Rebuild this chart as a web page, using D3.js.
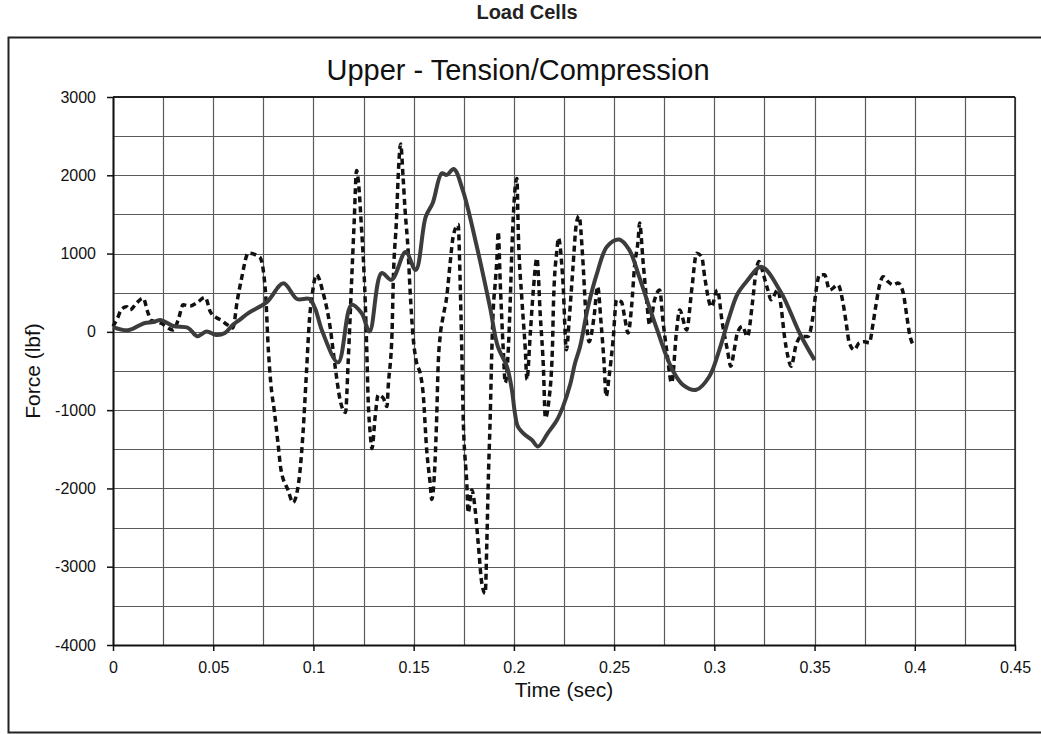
<!DOCTYPE html>
<html><head><meta charset="utf-8">
<script src="https://cdn.jsdelivr.net/npm/d3@7"></script>
<style>
html,body{margin:0;padding:0;background:#fff;}
svg{display:block;font-family:"Liberation Sans",Arial,sans-serif;}
</style></head>
<body>
<svg id="chart" width="1041" height="734"></svg>
<script>
const xTicks = [0,0.05,0.1,0.15,0.2,0.25,0.3,0.35,0.4,0.45];
const yTicks = [-4000,-3000,-2000,-1000,0,1000,2000,3000];

// Solid series: [time (sec), force (lbf)]
const solidSeries = [
[0,60],[0.0075,20],[0.0155,110],[0.02,125],[0.024,150],[0.03,75],[0.0375,50],[0.042,-55],
[0.0467,5],[0.0515,-40],[0.0558,-15],[0.0598,90],[0.063,150],[0.0675,240],[0.0767,380],
[0.085,620],[0.0918,420],[0.098,420],[0.1008,300],[0.1045,0],[0.1123,-390],[0.119,345],
[0.124,240],[0.128,5],[0.134,750],[0.139,665],[0.146,1020],[0.151,790],[0.156,1470],
[0.1595,1645],[0.164,2025],[0.1665,2005],[0.170,2080],[0.1745,1810],[0.1815,1090],
[0.188,325],[0.192,-190],[0.1965,-440],[0.199,-740],[0.2005,-1035],[0.202,-1210],
[0.2055,-1315],[0.209,-1380],[0.212,-1465],[0.217,-1290],[0.2215,-1125],[0.2245,-955],
[0.228,-680],[0.2305,-400],[0.233,-190],[0.237,320],[0.2415,750],[0.2465,1090],
[0.2525,1180],[0.2575,1050],[0.2625,705],[0.2675,320],[0.2715,25],[0.2755,-270],
[0.2795,-505],[0.2845,-680],[0.291,-740],[0.2975,-570],[0.3025,-230],[0.3075,195],
[0.3115,480],[0.316,640],[0.3235,830],[0.333,515],[0.343,-40],[0.350,-360]
];

// Dashed series: [time (sec), force (lbf)]
const dashedSeries = [
[0,70],[0.0025,190],[0.004,280],[0.0068,320],[0.0085,280],[0.0118,370],[0.015,430],
[0.0175,240],[0.019,150],[0.024,110],[0.03,25],[0.0325,150],[0.035,345],[0.0385,330],
[0.0417,370],[0.046,440],[0.0485,260],[0.0517,180],[0.054,150],[0.057,90],[0.0598,50],
[0.062,400],[0.064,665],[0.0675,1005],[0.0733,950],[0.076,535],[0.0775,-230],[0.0787,-650],
[0.0806,-1035],[0.0823,-1420],[0.0838,-1760],[0.0873,-2020],[0.0898,-2180],[0.0913,-2105],
[0.0932,-1800],[0.0948,-1290],[0.0965,-525],[0.098,150],[0.0995,500],[0.1015,730],
[0.1048,500],[0.1083,65],[0.1108,-440],[0.1133,-870],[0.116,-1030],[0.1173,-400],
[0.119,625],[0.1203,1390],[0.1215,2060],[0.1225,1900],[0.1238,1400],[0.1258,410],
[0.1266,-230],[0.1273,-870],[0.1283,-1290],[0.1292,-1490],[0.1308,-1080],[0.1323,-805],
[0.1348,-845],[0.1367,-955],[0.1373,-700],[0.1392,-15],[0.1398,625],[0.1415,1475],
[0.1422,1940],[0.1435,2400],[0.1447,1985],[0.1457,1560],[0.1472,1050],[0.1482,535],
[0.1497,-60],[0.1515,-400],[0.1532,-525],[0.1547,-780],[0.1565,-1510],[0.1582,-1930],
[0.159,-2140],[0.1607,-1635],[0.1615,-1080],[0.1622,-440],[0.1632,-60],[0.1647,195],
[0.1665,450],[0.1682,880],[0.1697,1215],[0.1722,1370],[0.1732,625],[0.174,-230],
[0.1747,-1080],[0.1765,-1930],[0.1772,-2310],[0.179,-2020],[0.1807,-2275],[0.1822,-2700],
[0.184,-3210],[0.1857,-3340],[0.1865,-2700],[0.1872,-1930],[0.1882,-1080],[0.189,-230],
[0.1897,280],[0.1907,625],[0.1915,920],[0.1922,1280],[0.1932,625],[0.1947,-230],
[0.1957,-650],[0.1972,-230],[0.1982,410],[0.199,1050],[0.1997,1475],[0.2015,1960],
[0.2022,1265],[0.204,410],[0.2057,-230],[0.2065,-610],[0.2082,-15],[0.2097,535],
[0.2115,940],[0.2132,195],[0.2147,-440],[0.2157,-1100],[0.2173,-910],[0.2192,-230],
[0.2198,410],[0.2215,1050],[0.2222,1200],[0.2245,625],[0.2262,-230],[0.2277,195],
[0.2295,835],[0.2312,1390],[0.2325,1480],[0.2343,960],[0.236,195],[0.2375,-125],
[0.24,195],[0.2418,580],[0.2435,110],[0.245,-400],[0.246,-825],[0.2475,-570],
[0.2495,-100],[0.2512,410],[0.2537,380],[0.2552,195],[0.257,-15],[0.2587,320],
[0.2602,835],[0.262,1175],[0.2627,1390],[0.2645,880],[0.2662,410],[0.2677,90],
[0.2702,410],[0.2727,535],[0.2745,110],[0.2762,-230],[0.2787,-650],[0.2812,25],
[0.2827,280],[0.2862,25],[0.2887,535],[0.2912,1005],[0.2937,960],[0.2952,700],
[0.2985,320],[0.3015,535],[0.304,110],[0.3065,-230],[0.3082,-440],[0.3098,-250],
[0.3115,-15],[0.314,70],[0.3165,-60],[0.319,370],[0.3207,750],[0.3222,900],
[0.3248,705],[0.3267,535],[0.3283,410],[0.3317,535],[0.3333,320],[0.335,-60],
[0.3367,-315],[0.3383,-440],[0.3408,-165],[0.3433,-60],[0.3467,-60],[0.3492,195],
[0.3508,535],[0.3525,730],[0.355,730],[0.3575,535],[0.3617,600],[0.3642,370],
[0.3658,110],[0.3673,-140],[0.3698,-230],[0.3723,-140],[0.3748,-125],[0.3773,-140],
[0.3792,110],[0.3808,370],[0.3823,580],[0.3842,705],[0.3867,640],[0.3892,600],
[0.3917,625],[0.3942,500],[0.3958,240],[0.3973,-15],[0.3998,-190]
];

const svg = d3.select("#chart");
const L = 113, R = 1015, T = 97, B = 645;
const x = d3.scaleLinear().domain([0,0.45]).range([L,R]);
const y = d3.scaleLinear().domain([-4000,3000]).range([B,T]);

// outer frame
svg.append("rect").attr("x",8.5).attr("y",37.5).attr("width",1040).attr("height",695)
  .attr("fill","none").attr("stroke","#222").attr("stroke-width",2);

// top title (partly hidden in the reference)
svg.append("text").attr("x",527).attr("y",19).attr("text-anchor","middle")
  .attr("font-size",20).attr("font-weight","bold").attr("fill","#222").text("Load Cells");

// chart title
svg.append("text").attr("x",518).attr("y",80).attr("text-anchor","middle")
  .attr("font-size",29).attr("fill","#111").text("Upper - Tension/Compression");

// grid
const g = svg.append("g");
const xGrid = d3.range(0, 0.45001, 0.025);
const yGrid = d3.range(-4000, 3001, 500);
g.selectAll(".vg").data(xGrid).enter().append("line")
  .attr("x1",d=>Math.round(x(d))+0.5).attr("x2",d=>Math.round(x(d))+0.5)
  .attr("y1",T).attr("y2",B).attr("stroke","#5a5a5a").attr("stroke-width",1.2);
g.selectAll(".hg").data(yGrid).enter().append("line")
  .attr("y1",d=>Math.round(y(d))+0.5).attr("y2",d=>Math.round(y(d))+0.5)
  .attr("x1",L).attr("x2",R).attr("stroke","#5a5a5a").attr("stroke-width",1.2);

// plot border top & right
svg.append("line").attr("x1",L).attr("x2",R).attr("y1",T).attr("y2",T).attr("stroke","#222").attr("stroke-width",2);
svg.append("line").attr("x1",R).attr("x2",R).attr("y1",T).attr("y2",B).attr("stroke","#222").attr("stroke-width",1.5);

// axes
const xAxis = svg.append("g").attr("transform",`translate(0,${B})`)
  .call(d3.axisBottom(x).tickValues(xTicks).tickSize(6).tickSizeOuter(0).tickFormat(d=>String(d)));
const yAxis = svg.append("g").attr("transform",`translate(${L},0)`)
  .call(d3.axisLeft(y).tickValues(yTicks).tickSize(6).tickPadding(11).tickSizeOuter(0).tickFormat(d=>String(d)));
[xAxis,yAxis].forEach(a=>{
  a.select(".domain").attr("stroke","#111").attr("stroke-width",2);
  a.selectAll(".tick line").attr("stroke","#111").attr("stroke-width",1.5);
  a.selectAll("text").attr("font-size",16).attr("fill","#111")
    .attr("font-family","'Liberation Sans',Arial,sans-serif");
});
xAxis.selectAll("text").attr("dy","1.2em");

// axis labels
svg.append("text").attr("x",564).attr("y",697).attr("text-anchor","middle")
  .attr("font-size",21).attr("fill","#111").text("Time (sec)");
svg.append("text").attr("transform","translate(40,371) rotate(-90)").attr("text-anchor","middle")
  .attr("font-size",21).attr("fill","#111").text("Force (lbf)");

// lines
const line = d3.line().x(d=>x(d[0])).y(d=>y(d[1])).curve(d3.curveMonotoneX);
svg.append("path").datum(dashedSeries).attr("d",line).attr("fill","none")
  .attr("stroke","#111").attr("stroke-width",3.5).attr("stroke-dasharray","6,4");
svg.append("path").datum(solidSeries).attr("d",d3.line().x(d=>x(d[0])).y(d=>y(d[1])).curve(d3.curveCatmullRom.alpha(0.5)))
  .attr("fill","none").attr("stroke","#3c3c3c").attr("stroke-width",4);
</script>
</body></html>
